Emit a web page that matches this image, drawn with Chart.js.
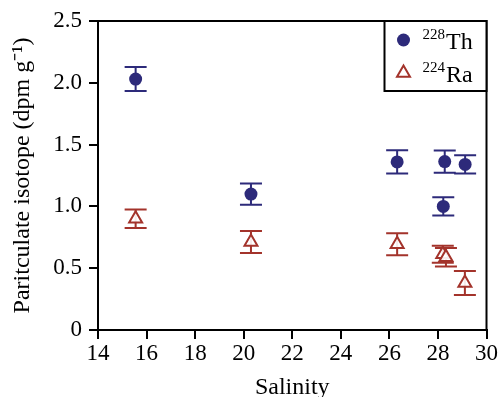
<!DOCTYPE html>
<html><head><meta charset="utf-8">
<script src="https://cdn.jsdelivr.net/npm/chart.js@4/dist/chart.umd.min.js"></script>
<style>html,body{margin:0;padding:0;background:#fff;}#wrap{width:499px;height:397px;}</style>
</head><body><div id="wrap"><canvas id="c" width="499" height="397"></canvas></div>
<script>
const thSalinity = [15.55, 20.3, 26.32, 28.28, 29.12, 28.22];
const thValue    = [2.03, 1.10, 1.36, 1.363, 1.34, 1.00];
const thError    = [0.097, 0.086, 0.094, 0.09, 0.074, 0.074];
const raSalinity = [15.55, 20.3, 26.32, 28.2, 28.33, 29.11];
const raValue    = [0.90, 0.712, 0.693, 0.613, 0.588, 0.38];
const raError    = [0.075, 0.089, 0.089, 0.069, 0.075, 0.097];
const xTicks = [14, 16, 18, 20, 22, 24, 26, 28, 30];
const yTicks = [0, 0.5, 1.0, 1.5, 2.0, 2.5];
const seriesNames = [["228", "Th"], ["224", "Ra"]];
const thColor = '#2d2a7a';
const raColor = '#a3332b';
const FONT = "'Liberation Serif', 'Times New Roman', serif";

const toPts = (xs, ys, es) => xs.map((x, i) => ({x: x, y: ys[i], err: es[i]}));

const errorBars = {
  id: 'errorBars',
  beforeDatasetsDraw(chart) {
    const {ctx, scales: {x, y}} = chart;
    chart.data.datasets.forEach(ds => {
      ctx.save();
      ctx.strokeStyle = ds.borderColor;
      ctx.lineWidth = 2;
      ds.data.forEach(p => {
        const px = x.getPixelForValue(p.x);
        const yt = y.getPixelForValue(p.y + p.err);
        const yb = y.getPixelForValue(p.y - p.err);
        ctx.beginPath();
        ctx.moveTo(px, yt); ctx.lineTo(px, yb);
        ctx.moveTo(px - 11, yt); ctx.lineTo(px + 11, yt);
        ctx.moveTo(px - 11, yb); ctx.lineTo(px + 11, yb);
        ctx.stroke();
      });
      ctx.restore();
    });
  }
};

const frameLegend = {
  id: 'frameLegend',
  afterDraw(chart) {
    const {ctx, chartArea: a} = chart;
    ctx.save();
    ctx.strokeStyle = '#000';
    ctx.lineWidth = 2;
    ctx.strokeRect(a.left, a.top, a.right - a.left, a.bottom - a.top);
    const w = 102, h = 70;
    const bx = a.right - w, by = a.top;
    ctx.fillStyle = '#fff';
    ctx.fillRect(bx, by, w, h);
    ctx.strokeRect(bx, by, w, h);
    const rows = [by + 19, by + 52];
    chart.data.datasets.forEach((ds, i) => {
      const cy = rows[i];
      const cx = bx + 19;
      ctx.beginPath();
      if (ds.pointStyle === 'circle') {
        ctx.fillStyle = ds.backgroundColor;
        ctx.arc(cx, cy, 6.5, 0, Math.PI * 2);
        ctx.fill();
      } else {
        const r = 7.5;
        ctx.strokeStyle = ds.borderColor;
        ctx.lineWidth = 2;
        for (let k = 0; k < 3; k++) {
          const ang = k * 2 * Math.PI / 3;
          const px = cx + Math.sin(ang) * r, py = cy - Math.cos(ang) * r;
          if (k === 0) ctx.moveTo(px, py); else ctx.lineTo(px, py);
        }
        ctx.closePath();
        ctx.stroke();
      }
      ctx.fillStyle = '#000';
      ctx.textBaseline = 'alphabetic';
      ctx.textAlign = 'left';
      ctx.font = '15px ' + FONT;
      ctx.fillText(seriesNames[i][0], bx + 38, cy - 1);
      const sw = ctx.measureText(seriesNames[i][0]).width;
      ctx.font = '24px ' + FONT;
      ctx.fillText(seriesNames[i][1], bx + 38 + sw + 1, cy + 9);
    });
    ctx.restore();
  }
};

new Chart(document.getElementById('c'), {
  type: 'scatter',
  data: {
    datasets: [
      {label: '228Th', data: toPts(thSalinity, thValue, thError), pointStyle: 'circle', pointRadius: 6.5, pointHoverRadius: 6.5,
       backgroundColor: thColor, borderColor: thColor, borderWidth: 0},
      {label: '224Ra', data: toPts(raSalinity, raValue, raError), pointStyle: 'triangle', pointRadius: 7.5, pointHoverRadius: 7.5,
       backgroundColor: 'rgba(255,255,255,0.9)', borderColor: raColor, borderWidth: 2}
    ]
  },
  options: {
    responsive: false,
    animation: false,
    devicePixelRatio: 1,
    layout: {padding: {top: 21, right: 11, left: 0, bottom: 0}},
    plugins: {legend: {display: false}, tooltip: {enabled: false}},
    scales: {
      x: {
        type: 'linear', min: 14, max: 30,
        afterBuildTicks(s) { s.ticks = xTicks.map(v => ({value: v})); },
        afterFit(s) { s.height = 67; },
        grid: {display: true, drawOnChartArea: false, drawTicks: true, tickLength: 9, color: '#000', lineWidth: 2},
        border: {display: true, color: '#000', width: 2},
        ticks: {color: '#000', font: {family: FONT, size: 23}, padding: 1, maxRotation: 0},
        title: {display: true, text: 'Salinity', color: '#000', font: {family: FONT, size: 24, lineHeight: 1}, padding: {top: 0, bottom: -3}}
      },
      y: {
        type: 'linear', min: 0, max: 2.5,
        afterBuildTicks(s) { s.ticks = yTicks.map(v => ({value: v})); },
        afterFit(s) { s.width = 98; },
        grid: {display: true, drawOnChartArea: false, drawTicks: true, tickLength: 9, color: '#000', lineWidth: 2},
        border: {display: true, color: '#000', width: 2},
        ticks: {color: '#000', font: {family: FONT, size: 23}, padding: 7,
                callback: v => v === 0 ? '0' : v.toFixed(1)},
        title: {display: true, text: 'Paritculate isotope (dpm g\u207B\u00B9)', color: '#000', font: {family: FONT, size: 24, lineHeight: 1}, padding: {top: 11, bottom: 0}}
      }
    }
  },
  plugins: [errorBars, frameLegend]
});
</script>
</body></html>
